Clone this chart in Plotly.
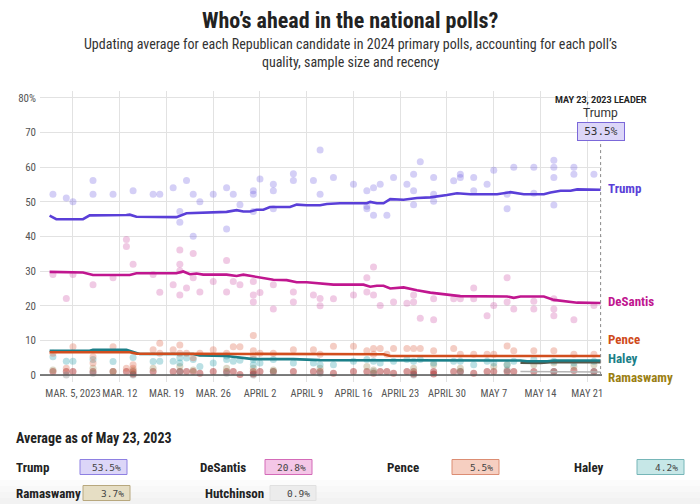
import plotly.graph_objects as go

# ---------------- data ----------------
trump_line_dates = ["2023-03-01 12:00", "2023-03-02 12:00", "2023-03-06 12:00", "2023-03-07 12:00", "2023-03-13", "2023-03-13 12:00",
                    "2023-03-14 12:00", "2023-03-20 12:00", "2023-03-22", "2023-03-25", "2023-03-28", "2023-03-29 12:00",
                    "2023-03-30 12:00", "2023-03-31 12:00", "2023-04-01 12:00", "2023-04-02 12:00", "2023-04-03 12:00",
                    "2023-04-06 12:00", "2023-04-07 12:00", "2023-04-09", "2023-04-11", "2023-04-12", "2023-04-14",
                    "2023-04-18", "2023-04-18 12:00", "2023-04-19 12:00", "2023-04-20 12:00", "2023-04-21 12:00",
                    "2023-04-23 12:00", "2023-04-25 12:00", "2023-04-27 12:00", "2023-04-30", "2023-05-01 12:00",
                    "2023-05-03 12:00", "2023-05-07 12:00", "2023-05-09 12:00", "2023-05-11 12:00", "2023-05-14 12:00",
                    "2023-05-15 12:00", "2023-05-17", "2023-05-18 12:00", "2023-05-19 12:00", "2023-05-23"]
trump_line_vals = [46.0, 45.0, 45.0, 46.1, 46.2, 46.3, 45.7, 45.6, 46.7, 46.9, 47.1, 47.6, 47.2, 47.2, 47.7, 47.7, 48.5,
                   48.5, 49.2, 49.0, 49.0, 49.4, 49.6, 49.6, 50.0, 49.6, 49.6, 50.8, 50.6, 51.1, 51.3, 52.0, 52.5,
                   52.2, 52.2, 52.8, 52.2, 52.2, 52.7, 53.2, 53.2, 53.6, 53.5]

desantis_line_dates = ["2023-03-01 12:00", "2023-03-06 12:00", "2023-03-08", "2023-03-13 12:00", "2023-03-14 12:00",
                       "2023-03-20 12:00", "2023-03-21 12:00", "2023-03-22 12:00", "2023-03-23 12:00", "2023-03-24 12:00",
                       "2023-03-28", "2023-03-29 12:00", "2023-03-30 12:00", "2023-04-01", "2023-04-02", "2023-04-04",
                       "2023-04-06", "2023-04-07 12:00", "2023-04-09", "2023-04-11", "2023-04-13", "2023-04-17 12:00",
                       "2023-04-18 12:00", "2023-04-19 12:00", "2023-04-20 12:00", "2023-04-21 12:00", "2023-04-23 12:00",
                       "2023-04-25 12:00", "2023-04-27 12:00", "2023-05-01", "2023-05-02", "2023-05-09", "2023-05-10",
                       "2023-05-11", "2023-05-14 12:00", "2023-05-16", "2023-05-18", "2023-05-19 12:00", "2023-05-23"]
desantis_line_vals = [29.8, 29.6, 28.9, 28.9, 29.4, 29.4, 29.9, 29.1, 29.3, 29.0, 29.0, 28.6, 29.0, 28.5, 28.1, 27.5,
                      27.4, 26.8, 26.8, 26.4, 26.1, 26.1, 25.5, 25.8, 25.8, 25.0, 25.3, 24.5, 23.8, 23.0, 22.8, 22.7,
                      22.3, 22.7, 22.7, 21.7, 21.3, 20.9, 20.8]

pence_line_dates = ["2023-03-01 12:00", "2023-03-13 12:00", "2023-03-14 12:00", "2023-03-28", "2023-04-04",
                    "2023-04-20 12:00", "2023-04-21 12:00", "2023-05-23"]
pence_line_vals = [6.6, 6.6, 6.2, 6.2, 6.0, 6.0, 5.5, 5.5]

haley_line_dates = ["2023-03-01 12:00", "2023-03-07 12:00", "2023-03-08", "2023-03-13", "2023-03-14 12:00",
                    "2023-03-15", "2023-03-23", "2023-03-24", "2023-03-28", "2023-03-30", "2023-04-01", "2023-04-07",
                    "2023-04-09", "2023-04-11", "2023-05-11", "2023-05-12", "2023-05-15", "2023-05-16", "2023-05-23"]
haley_line_vals = [7.0, 7.0, 7.3, 7.3, 6.4, 6.1, 6.1, 5.7, 5.5, 5.0, 4.6, 4.6, 4.4, 4.3, 4.2, 4.0, 4.0, 4.2, 4.2]

ramaswamy_line_dates = ["2023-05-11", "2023-05-14", "2023-05-16", "2023-05-19", "2023-05-23"]
ramaswamy_line_vals = [3.6, 3.5, 3.8, 3.7, 3.7]

hutchinson_line_dates = ["2023-05-11", "2023-05-16", "2023-05-23"]
hutchinson_line_vals = [1.0, 1.0, 0.9]

trump_poll_dates = ["2023-03-02", "2023-03-04", "2023-03-05", "2023-03-08", "2023-03-08", "2023-03-11", "2023-03-14",
                    "2023-03-17", "2023-03-18", "2023-03-20", "2023-03-21", "2023-03-21", "2023-03-22", "2023-03-23",
                    "2023-03-23", "2023-03-24", "2023-03-26", "2023-03-28", "2023-03-28", "2023-03-29", "2023-03-30",
                    "2023-04-01", "2023-04-01", "2023-04-01", "2023-04-02", "2023-04-04", "2023-04-04", "2023-04-04",
                    "2023-04-07", "2023-04-07", "2023-04-10", "2023-04-11", "2023-04-11", "2023-04-13", "2023-04-16",
                    "2023-04-18", "2023-04-18", "2023-04-18", "2023-04-19", "2023-04-19", "2023-04-20", "2023-04-21",
                    "2023-04-22", "2023-04-24", "2023-04-25", "2023-04-25", "2023-04-25", "2023-04-26", "2023-04-28",
                    "2023-04-28", "2023-04-28", "2023-05-01", "2023-05-02", "2023-05-02", "2023-05-04", "2023-05-04",
                    "2023-05-06", "2023-05-07", "2023-05-09", "2023-05-09", "2023-05-10", "2023-05-13", "2023-05-13",
                    "2023-05-16", "2023-05-16", "2023-05-16", "2023-05-16", "2023-05-19", "2023-05-19", "2023-05-22"]
trump_poll_vals = [52.2, 51.1, 50.0, 56.2, 52.2, 52.2, 53.2, 52.2, 52.2, 54.1, 47.2, 44.1, 56.2, 52.2, 40.1, 50.0,
                   52.2, 54.1, 42.2, 52.2, 49.2, 53.2, 52.2, 47.2, 56.6, 55.1, 53.2, 48.0, 58.1, 56.2, 56.2, 65.0,
                   52.2, 57.0, 55.1, 53.2, 48.7, 48.0, 54.1, 46.1, 55.1, 46.1, 57.0, 55.1, 58.0, 53.2, 49.2, 61.6,
                   57.0, 52.2, 50.2, 56.1, 58.0, 57.0, 57.0, 53.2, 55.1, 59.1, 52.2, 48.0, 60.0, 60.0, 52.5, 62.0,
                   60.0, 57.0, 49.1, 60.0, 58.0, 58.0]

desantis_poll_dates = ["2023-03-02", "2023-03-04", "2023-03-05", "2023-03-08", "2023-03-11", "2023-03-13", "2023-03-13",
                       "2023-03-14", "2023-03-17", "2023-03-18", "2023-03-20", "2023-03-21", "2023-03-21", "2023-03-21",
                       "2023-03-21", "2023-03-22", "2023-03-23", "2023-03-23", "2023-03-24", "2023-03-26", "2023-03-28",
                       "2023-03-28", "2023-03-29", "2023-03-30", "2023-04-01", "2023-04-01", "2023-04-01", "2023-04-02",
                       "2023-04-04", "2023-04-04", "2023-04-07", "2023-04-07", "2023-04-10", "2023-04-11", "2023-04-11",
                       "2023-04-13", "2023-04-16", "2023-04-18", "2023-04-18", "2023-04-19", "2023-04-19", "2023-04-20",
                       "2023-04-22", "2023-04-24", "2023-04-25", "2023-04-25", "2023-04-26", "2023-04-28", "2023-04-28",
                       "2023-05-01", "2023-05-02", "2023-05-04", "2023-05-04", "2023-05-06", "2023-05-07", "2023-05-09",
                       "2023-05-09", "2023-05-10", "2023-05-13", "2023-05-13", "2023-05-16", "2023-05-16", "2023-05-16",
                       "2023-05-19", "2023-05-22"]
desantis_poll_vals = [29.0, 22.1, 29.0, 26.1, 28.1, 39.1, 37.1, 32.0, 29.0, 23.9, 26.1, 36.1, 32.0, 30.1, 23.1, 25.1,
                      35.1, 28.1, 24.0, 27.0, 33.1, 24.0, 27.0, 26.1, 27.0, 23.1, 21.1, 23.8, 26.1, 19.1, 24.0, 21.1,
                      23.1, 22.1, 20.0, 22.0, 23.1, 28.1, 24.0, 31.2, 23.1, 20.1, 21.1, 20.7, 23.1, 21.1, 16.4, 22.0,
                      16.0, 22.0, 22.0, 25.1, 22.0, 17.1, 20.1, 28.1, 21.1, 19.1, 21.3, 19.1, 22.0, 19.1, 17.1, 16.0,
                      20.1]

pence_poll_dates = ["2023-03-02", "2023-03-04", "2023-03-05", "2023-03-08", "2023-03-08", "2023-03-11", "2023-03-13",
                    "2023-03-14", "2023-03-14", "2023-03-17", "2023-03-18", "2023-03-18", "2023-03-20", "2023-03-21",
                    "2023-03-21", "2023-03-22", "2023-03-23", "2023-03-24", "2023-03-26", "2023-03-28", "2023-03-29",
                    "2023-03-30", "2023-04-01", "2023-04-01", "2023-04-01", "2023-04-02", "2023-04-04", "2023-04-07",
                    "2023-04-10", "2023-04-11", "2023-04-13", "2023-04-16", "2023-04-18", "2023-04-19", "2023-04-19",
                    "2023-04-20", "2023-04-21", "2023-04-22", "2023-04-24", "2023-04-25", "2023-04-26", "2023-04-28",
                    "2023-05-01", "2023-05-02", "2023-05-04", "2023-05-06", "2023-05-07", "2023-05-09", "2023-05-10",
                    "2023-05-13", "2023-05-16", "2023-05-19", "2023-05-22"]
pence_poll_vals = [6.3, 2.0, 8.2, 5.3, 3.5, 8.2, 2.0, 3.0, 2.0, 7.3, 9.2, 6.3, 7.3, 8.7, 6.3, 6.3, 5.0, 6.3, 7.3, 6.3,
                   8.2, 8.2, 11.4, 7.0, 5.5, 6.3, 6.3, 7.3, 7.3, 6.0, 8.3, 8.3, 7.0, 7.7, 6.0, 7.7, 6.0, 7.7, 7.7,
                   7.7, 7.7, 7.0, 7.7, 6.0, 6.0, 6.0, 6.0, 8.4, 7.0, 7.0, 7.0, 6.0, 6.0]

haley_poll_dates = ["2023-03-02", "2023-03-04", "2023-03-05", "2023-03-08", "2023-03-11", "2023-03-14", "2023-03-17",
                    "2023-03-18", "2023-03-20", "2023-03-21", "2023-03-21", "2023-03-22", "2023-03-23", "2023-03-24",
                    "2023-03-26", "2023-03-28", "2023-03-28", "2023-03-29", "2023-03-30", "2023-04-01", "2023-04-01",
                    "2023-04-02", "2023-04-04", "2023-04-07", "2023-04-10", "2023-04-11", "2023-04-13", "2023-04-16",
                    "2023-04-18", "2023-04-19", "2023-04-20", "2023-04-22", "2023-04-24", "2023-04-25", "2023-04-26",
                    "2023-04-28", "2023-05-01", "2023-05-02", "2023-05-04", "2023-05-06", "2023-05-07", "2023-05-09",
                    "2023-05-10", "2023-05-13", "2023-05-16", "2023-05-19", "2023-05-22"]
haley_poll_vals = [5.3, 4.0, 4.0, 4.5, 3.9, 5.1, 3.9, 4.0, 4.0, 5.0, 3.5, 4.9, 4.5, 2.5, 3.5, 5.5, 4.5, 4.0, 4.3, 4.5,
                   3.0, 3.5, 4.5, 3.5, 3.5, 3.0, 3.0, 4.0, 4.5, 4.0, 3.5, 4.0, 4.5, 4.0, 4.5, 3.5, 4.0, 4.0, 3.0,
                   4.0, 3.5, 3.0, 4.0, 4.5, 4.0, 3.5, 4.0]

ramaswamy_poll_dates = ["2023-03-02", "2023-03-08", "2023-03-11", "2023-03-14", "2023-03-17", "2023-03-21", "2023-03-23",
                        "2023-03-28", "2023-04-01", "2023-04-04", "2023-04-11", "2023-04-18", "2023-04-19", "2023-04-25",
                        "2023-04-28", "2023-05-02", "2023-05-07", "2023-05-09", "2023-05-13", "2023-05-16", "2023-05-19",
                        "2023-05-22"]
ramaswamy_poll_vals = [1.5, 2.0, 1.0, 1.5, 2.0, 2.5, 1.5, 2.0, 2.0, 1.5, 2.0, 2.5, 1.5, 2.0, 3.0, 2.0, 2.5, 3.0, 3.0,
                       3.5, 2.5, 3.0]

hutchinson_poll_dates = ["2023-03-04", "2023-03-08", "2023-03-14", "2023-03-21", "2023-03-28", "2023-04-01",
                         "2023-04-04", "2023-04-11", "2023-04-19", "2023-04-25", "2023-05-02", "2023-05-09",
                         "2023-05-16", "2023-05-22"]
hutchinson_poll_vals = [0.0, 0.5, 0.0, 1.0, 0.5, 0.0, 1.0, 0.5, 1.0, 0.0, 1.0, 1.5, 1.0, 1.0]

other_poll_dates = ["2023-03-02", "2023-03-04", "2023-03-05", "2023-03-08", "2023-03-11", "2023-03-13", "2023-03-14",
                    "2023-03-14", "2023-03-17", "2023-03-20", "2023-03-21", "2023-03-22", "2023-03-23", "2023-03-24",
                    "2023-03-26", "2023-03-28", "2023-03-29", "2023-03-30", "2023-04-01", "2023-04-01", "2023-04-02",
                    "2023-04-04", "2023-04-07", "2023-04-10", "2023-04-11", "2023-04-13", "2023-04-16", "2023-04-18",
                    "2023-04-19", "2023-04-20", "2023-04-21", "2023-04-22", "2023-04-24", "2023-04-25", "2023-04-25",
                    "2023-04-28", "2023-04-28", "2023-05-01", "2023-05-02", "2023-05-04", "2023-05-06", "2023-05-07",
                    "2023-05-09", "2023-05-10", "2023-05-13", "2023-05-16", "2023-05-19", "2023-05-22"]
other_poll_vals = [1.0, 1.0, 1.0, 1.0, 1.0, 1.0, 1.0, 0.3, 1.0, 1.0, 1.0, 1.0, 1.0, 0.5, 1.0, 1.0, 1.0, 0.2, 1.0, 0.3,
                   1.0, 1.0, 1.0, 1.0, 1.0, 0.5, 1.0, 1.0, 0.5, 1.0, 1.0, 0.5, 1.0, 1.0, 0.3, 1.0, 0.3, 1.0, 1.0,
                   0.5, 1.0, 1.0, 1.0, 1.0, 1.0, 1.0, 1.3, 1.0]

x_tick_dates = ["2023-03-05", "2023-03-12", "2023-03-19", "2023-03-26", "2023-04-02", "2023-04-09", "2023-04-16",
                "2023-04-23", "2023-04-30", "2023-05-07", "2023-05-14", "2023-05-21"]
x_tick_labels = ["MAR. 5, 2023", "MAR. 12", "MAR. 19", "MAR. 26", "APRIL 2", "APRIL 9", "APRIL 16", "APRIL 23",
                 "APRIL 30", "MAY 7", "MAY 14", "MAY 21"]
y_tick_vals = [0, 10, 20, 30, 40, 50, 60, 70, 80]
y_tick_labels = ["0", "10", "20", "30", "40", "50", "60", "70", "80%"]

candidates = ["Trump", "DeSantis", "Pence", "Haley", "Ramaswamy", "Hutchinson"]
averages = [53.5, 20.8, 5.5, 4.2, 3.7, 0.9]
end_label_vals = [54.0, 21.1, 10.4, 4.9, -0.6]
leader_date = "2023-05-23"

# ---------------- styling ----------------
W, H = 700, 504
ML, MR, MT, MB = 40, 98, 91, 122
PW, PH = W - ML - MR, H - MT - MB
BODY = "Liberation Sans Narrow, Roboto Condensed, DejaVu Sans Condensed, Roboto, sans-serif"
MONO = "DejaVu Sans Mono, Liberation Mono, monospace"

line_colors = {"Trump": "#5a3fd8", "DeSantis": "#c0168f", "Pence": "#d14e1e", "Haley": "#1b7f88",
               "Ramaswamy": "#55584a", "Hutchinson": "#b5b5b5"}
label_colors = {"Trump": "#5a3fd8", "DeSantis": "#c0168f", "Pence": "#cf4a1a", "Haley": "#1b7f88",
                "Ramaswamy": "#9b7f12"}
dot_colors = {"Trump": "rgba(100,82,222,0.28)", "DeSantis": "rgba(205,80,165,0.30)",
              "Pence": "rgba(222,100,70,0.32)", "Haley": "rgba(40,160,170,0.32)",
              "Ramaswamy": "rgba(150,135,80,0.32)", "Hutchinson": "rgba(110,110,110,0.30)",
              "Other": "rgba(165,30,30,0.45)"}
box_fill = {"Trump": "#dcd6f8", "DeSantis": "#f4c6e7", "Pence": "#f6cfc1", "Haley": "#c6e7e7",
            "Ramaswamy": "#e6dec4", "Hutchinson": "#ececec"}
box_line = {"Trump": "#8e80e2", "DeSantis": "#d46bb8", "Pence": "#dc8d73", "Haley": "#76b6b8",
            "Ramaswamy": "#b8a87e", "Hutchinson": "#e0e0e0"}


def px(x):
    return (x - ML) / PW


def py(y):
    return (H - MB - y) / PH


fig = go.Figure()

dot_sets = [("Other", other_poll_dates, other_poll_vals),
            ("Hutchinson", hutchinson_poll_dates, hutchinson_poll_vals),
            ("Ramaswamy", ramaswamy_poll_dates, ramaswamy_poll_vals),
            ("Haley", haley_poll_dates, haley_poll_vals),
            ("Pence", pence_poll_dates, pence_poll_vals),
            ("DeSantis", desantis_poll_dates, desantis_poll_vals),
            ("Trump", trump_poll_dates, trump_poll_vals)]
for name, d, v in dot_sets:
    fig.add_trace(go.Scatter(x=d, y=v, mode="markers", hoverinfo="skip",
                             marker=dict(size=7, color=dot_colors[name], line=dict(width=0))))

line_sets = [("Hutchinson", hutchinson_line_dates, hutchinson_line_vals),
             ("Ramaswamy", ramaswamy_line_dates, ramaswamy_line_vals),
             ("Haley", haley_line_dates, haley_line_vals),
             ("Pence", pence_line_dates, pence_line_vals),
             ("DeSantis", desantis_line_dates, desantis_line_vals),
             ("Trump", trump_line_dates, trump_line_vals)]
for name, d, v in line_sets:
    fig.add_trace(go.Scatter(x=d, y=v, mode="lines", hoverinfo="skip",
                             line=dict(color=line_colors[name], width=2.6 if name != "Hutchinson" else 1.5)))

# zero baseline
fig.add_shape(type="line", xref="paper", x0=0, x1=1, yref="y", y0=0, y1=0,
              line=dict(color="#555555", width=1.5), layer="above")
# leader dotted line
fig.add_shape(type="line", xref="x", x0=leader_date, x1=leader_date, yref="y", y0=0, y1=68.2,
              line=dict(color="#888888", width=1, dash="dot"))

ann = []
# end labels
for name, v in zip(candidates[:5], end_label_vals):
    ann.append(dict(xref="paper", x=1.008, yref="y", y=v, xanchor="left", yanchor="middle", showarrow=False,
                    text="<b>%s</b>" % name, font=dict(family=BODY, size=13, color=label_colors[name])))

# leader annotation
ann.append(dict(xref="x", x=leader_date, yref="paper", y=py(100), showarrow=False, xanchor="center",
                yanchor="middle", text="<b>MAY 23, 2023 LEADER</b>",
                font=dict(family="Roboto, sans-serif", size=9, color="#222")))
ann.append(dict(xref="x", x=leader_date, yref="paper", y=py(113), showarrow=False, xanchor="center",
                yanchor="middle", text="Trump", font=dict(family="Roboto, sans-serif", size=12, color="#333")))
ann.append(dict(xref="x", x=leader_date, yref="paper", y=py(131.5), showarrow=False, xanchor="center",
                yanchor="middle", text="%.1f%%" % averages[0], bgcolor=box_fill["Trump"],
                bordercolor="#7b68d9", borderwidth=1, borderpad=2, width=42,
                font=dict(family=MONO, size=11, color="#333")))

# title
ann.append(dict(xref="paper", x=px(350), yref="paper", y=py(20), showarrow=False, xanchor="center",
                yanchor="middle", text="<b>Who’s ahead in the national polls?</b>",
                font=dict(family=BODY, size=22, color="#222")))
ann.append(dict(xref="paper", x=px(350), yref="paper", y=py(53), showarrow=False, xanchor="center",
                yanchor="middle",
                text="Updating average for each Republican candidate in 2024 primary polls, accounting for each poll’s<br>quality, sample size and recency",
                font=dict(family=BODY, size=14, color="#333")))

# bottom summary
ann.append(dict(xref="paper", x=px(14), yref="paper", y=py(438), showarrow=False, xanchor="left",
                yanchor="middle", text="<b>Average as of May 23, 2023</b>",
                font=dict(family=BODY, size=14, color="#222")))

rows = [(14, 80, 127, 467), (198, 265, 312, 467), (385, 452, 499, 467), (572, 637, 684, 467),
        (14, 83, 130, 493), (203, 270, 316, 493)]
shapes = []
for name, avg, (lx, bx0, bx1, yc) in zip(candidates, averages, rows):
    ann.append(dict(xref="paper", x=px(lx), yref="paper", y=py(yc), showarrow=False, xanchor="left",
                    yanchor="middle", text="<b>%s</b>" % name, font=dict(family=BODY, size=13, color="#222")))
    ann.append(dict(xref="paper", x=px(bx1 - 4), yref="paper", y=py(yc), showarrow=False, xanchor="right",
                    yanchor="middle", text="%.1f%%" % avg, font=dict(family=MONO, size=9.5, color="#444")))
    shapes.append(dict(type="rect", xref="paper", yref="paper", x0=px(bx0), x1=px(bx1),
                       y0=py(yc + 7.5), y1=py(yc - 7.5), fillcolor=box_fill[name],
                       line=dict(color=box_line[name], width=1), layer="below"))

# soft bottom fade
for i, op in enumerate([0.25, 0.45, 0.65, 0.85]):
    shapes.insert(0, dict(type="rect", xref="paper", yref="paper", x0=px(0), x1=px(W),
                          y0=py(480 + i * 6 + 6), y1=py(480 + i * 6), fillcolor="#f0f0f0", opacity=op,
                          line=dict(width=0), layer="below"))

for s in shapes:
    fig.add_shape(**s)

fig.update_layout(
    width=W, height=H, margin=dict(l=ML, r=MR, t=MT, b=MB, pad=0),
    paper_bgcolor="white", plot_bgcolor="white", showlegend=False,
    annotations=ann,
    xaxis=dict(type="date", range=["2023-02-28 01:30", "2023-05-23 05:00"], tickmode="array",
               tickvals=x_tick_dates, ticktext=x_tick_labels, showgrid=True, gridcolor="#e2e2e2", gridwidth=1,
               zeroline=False, showline=False, ticks="", ticklabelstandoff=3, tickangle=0,
               automargin=False, tickfont=dict(family=BODY, size=10.5, color="#555")),
    yaxis=dict(range=[-2, 82], tickmode="array", tickvals=y_tick_vals, ticktext=y_tick_labels,
               showgrid=True, gridcolor="#e2e2e2", gridwidth=1, zeroline=False, showline=False, ticks="",
               automargin=False, ticklabelstandoff=3, tickfont=dict(family=BODY, size=11, color="#555")),
)

fig.write_html("out.html", config={"displayModeBar": False},
               post_script="document.body.style.margin='0';document.body.style.overflow='hidden';")
